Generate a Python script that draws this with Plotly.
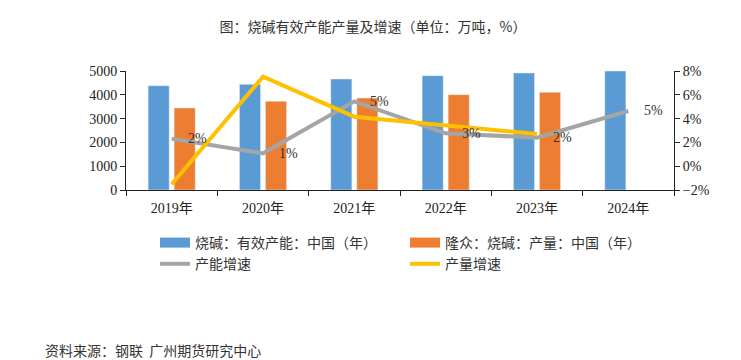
import plotly.graph_objects as go

years = ["2019年", "2020年", "2021年", "2022年", "2023年", "2024年"]
capacity = [4382, 4440, 4664, 4803, 4916, 5000]
output = [3445, 3727, 3866, 4005, 4104, None]
capacity_growth = [2.31, 1.08, 5.45, 2.76, 2.40, 4.64]
output_growth = [-1.52, 7.52, 4.16, 3.40, 2.70, None]

name_cap = "烧碱：有效产能：中国（年）"
name_out = "隆众：烧碱：产量：中国（年）"
name_cg = "产能增速"
name_og = "产量增速"

BLUE = "#5B9BD5"
ORANGE = "#ED7D31"
GRAY = "#A5A5A5"
YELLOW = "#FFC000"
SERIF = "Liberation Serif, Noto Sans CJK SC"
CJK = "Noto Sans CJK SC"

fig = go.Figure()
fig.add_trace(go.Bar(x=years, y=capacity, marker_color=BLUE, showlegend=False, name=name_cap))
fig.add_trace(go.Bar(x=years, y=output, marker_color=ORANGE, showlegend=False, name=name_out))
fig.add_trace(go.Scatter(x=years, y=capacity_growth, mode="lines", line=dict(color=GRAY, width=4),
                         yaxis="y2", showlegend=False, name=name_cg))
fig.add_trace(go.Scatter(x=years, y=output_growth, mode="lines", line=dict(color=YELLOW, width=4),
                         yaxis="y2", showlegend=False, name=name_og))

# legend entries
for nm, col, w in [(name_cap, BLUE, 10), (name_out, ORANGE, 10), (name_cg, GRAY, 4), (name_og, YELLOW, 4)]:
    fig.add_trace(go.Scatter(x=[years[0]], y=[None], mode="lines", line=dict(color=col, width=w),
                             name=nm, showlegend=True))

annotations = []
for yr, v in zip(years, capacity_growth):
    annotations.append(dict(x=yr, y=v, xref="x", yref="y2", text=f"{round(v)}%", showarrow=False,
                            xanchor="left", yanchor="middle", xshift=14,
                            font=dict(family=SERIF, size=14, color="#333333")))
annotations.append(dict(x=(43 - 126) / 548, y=(190 - 350) / 119, xref="paper", yref="paper",
                        text="资料来源：钢联  广州期货研究中心", showarrow=False, xanchor="left", yanchor="middle",
                        font=dict(family=CJK, size=14, color="#333333")))

fig.update_layout(
    width=741, height=360,
    margin=dict(l=126, r=67, t=71, b=170),
    paper_bgcolor="white", plot_bgcolor="white",
    barmode="group", bargap=0.43, bargroupgap=0.19,
    title=dict(text="图：烧碱有效产能产量及增速（单位：万吨，%）", x=373 / 741, xanchor="center",
               y=1 - 27 / 360, yanchor="middle", font=dict(family=CJK, size=14, color="#333333")),
    xaxis=dict(type="category", showline=True, linecolor="#222222", linewidth=1, ticks="outside",
               tickson="boundaries", ticklen=5, tickcolor="#222222", showgrid=False,
               ticklabelstandoff=5,
               tickfont=dict(family=SERIF, size=14, color="#222222")),
    yaxis=dict(range=[0, 5000], dtick=1000, showline=True, linecolor="#222222", linewidth=1,
               ticks="outside", ticklen=5, tickcolor="#222222", showgrid=False, zeroline=False,
               tickfont=dict(family=SERIF, size=14, color="#222222")),
    yaxis2=dict(range=[-2, 8], dtick=2, ticksuffix="%", overlaying="y", side="right", showline=True,
                linecolor="#222222", linewidth=1, ticks="outside", ticklen=5, tickcolor="#222222",
                showgrid=False, zeroline=False,
                tickfont=dict(family=SERIF, size=14, color="#222222")),
    legend=dict(orientation="h", x=(155 - 126) / 548, xanchor="left", y=(190 - 227) / 119, yanchor="top",
                entrywidth=205, entrywidthmode="pixels", traceorder="normal",
                font=dict(family=CJK, size=14, color="#333333"), bgcolor="rgba(0,0,0,0)",
                itemwidth=30),
    annotations=annotations,
)

fig.write_html("out.html", config={"displayModeBar": False},
               post_script="document.body.style.margin='0px';")
